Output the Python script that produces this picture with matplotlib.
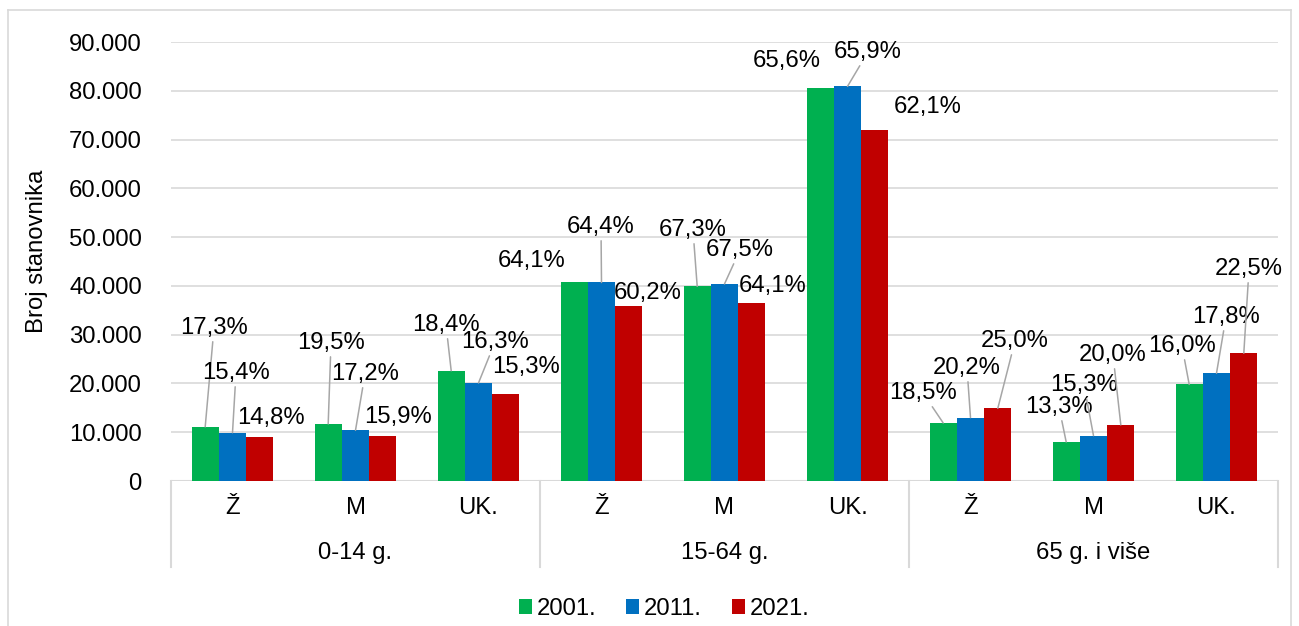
import matplotlib
matplotlib.use("Agg")
import matplotlib.pyplot as plt
from matplotlib.lines import Line2D
import numpy as np

plt.rcParams['font.family'] = ['Liberation Sans', 'DejaVu Sans']

# ---------------- data ----------------
subcats = ["Ž", "M", "UK.", "Ž", "M", "UK.", "Ž", "M", "UK."]
groups = ["0-14 g.", "15-64 g.", "65 g. i više"]
series_names = ["2001.", "2011.", "2021."]
v2001 = [11100, 11700, 22600, 40700, 39900, 80500, 11900, 8000, 19800]
v2011 = [9900, 10400, 20100, 40700, 40400, 80900, 13000, 9300, 22100]
v2021 = [9000, 9200, 17900, 35800, 36400, 72000, 14900, 11500, 26200]
p2001 = ["17,3%", "19,5%", "18,4%", "64,1%", "67,3%", "65,6%", "18,5%", "13,3%", "16,0%"]
p2011 = ["15,4%", "17,2%", "16,3%", "64,4%", "67,5%", "65,9%", "20,2%", "15,3%", "17,8%"]
p2021 = ["14,8%", "15,9%", "15,3%", "60,2%", "64,1%", "62,1%", "25,0%", "20,0%", "22,5%"]
yticks = [0, 10000, 20000, 30000, 40000, 50000, 60000, 70000, 80000, 90000]
ytick_labels = ["0", "10.000", "20.000", "30.000", "40.000", "50.000",
                "60.000", "70.000", "80.000", "90.000"]

# ---------------- label placement (pixel offsets from bar top) ----------------
off2001 = [(8.8, 98.9), (2.8, 80.9), (-5.2, 45.8), (-42.2, 21.5), (-4.2, 56.4),
           (-33.2, 27.3), (-20.2, 30.0), (-7.2, 35.0), (-7.2, 38.4)]
off2011 = [(3.5, 59.7), (9.5, 56.3), (16.5, 40.9), (-0.5, 55.5), (15.5, 33.9),
           (20.5, 34.4), (-3.5, 49.6), (-9.5, 50.6), (9.5, 56.2)]
off2021 = [(11.2, 19.1), (15.2, 19.1), (20.2, 26.7), (19.2, 13.4), (21.2, 17.4),
           (53.2, 22.8), (17.2, 67.3), (-7.8, 69.9), (5.2, 84.2)]
lead2001 = [1, 1, 1, 0, 1, 0, 1, 1, 1]
lead2011 = [1, 1, 1, 1, 1, 1, 1, 1, 1]
lead2021 = [0, 0, 0, 0, 0, 0, 1, 1, 1]

colors = ["#00B050", "#0070C0", "#C00000"]
grid_c = "#D9D9D9"
lead_c = "#A6A6A6"
FS = 17.2

W, H = 1299, 626
fig = plt.figure(figsize=(W / 100, H / 100), dpi=100)
L, R, T, B = 171, 1278, 42, 481
ax = fig.add_axes([L / W, 1 - B / H, (R - L) / W, (B - T) / H])

x = np.arange(len(subcats))
bw = 0.222
allv = [v2001, v2011, v2021]
allp = [p2001, p2011, p2021]
allo = [off2001, off2011, off2021]
alll = [lead2001, lead2011, lead2021]
for k in range(3):
    xs = x + (k - 1) * bw
    ax.bar(xs, allv[k], width=bw, color=colors[k], label=series_names[k], zorder=3)
    for i in range(len(x)):
        dx, dy = allo[k][i]
        ap = dict(arrowstyle='-', color=lead_c, lw=1.1, shrinkA=0, shrinkB=0) if alll[k][i] else None
        ax.annotate(allp[k][i], xy=(xs[i], allv[k][i]), xytext=(dx, dy),
                    textcoords='offset pixels', ha='center', va='center',
                    fontsize=FS, color='#000000', arrowprops=ap, zorder=4,
                    annotation_clip=False)

ax.set_xlim(-0.5, len(subcats) - 0.5)
ax.set_ylim(0, 90000)
ax.set_yticks(yticks)
ax.set_yticklabels(ytick_labels, fontsize=FS)
ax.tick_params(axis='y', length=0, pad=21)
ax.tick_params(axis='x', length=0, labelbottom=False)
ax.set_xticks([])
ax.grid(axis='y', color=grid_c, lw=1.2, zorder=0)
ax.set_axisbelow(True)
for s in ax.spines.values():
    s.set_visible(False)
ax.axhline(0, color=grid_c, lw=1.5, zorder=2)

xt = ax.get_xaxis_transform()
ax_h = B - T
for i, s in enumerate(subcats):
    ax.text(x[i], -(508 - B) / ax_h, s, transform=xt, ha='center', va='center',
            fontsize=FS, clip_on=False)
for g in range(3):
    ax.text(3 * g + 1, -(553 - B) / ax_h, groups[g], transform=xt, ha='center',
            va='center', fontsize=FS, clip_on=False)
for xb in [-0.5, 2.5, 5.5, 8.5]:
    ax.add_line(Line2D([xb, xb], [0, -(567 - B) / ax_h], transform=xt,
                       color=grid_c, lw=1.5, clip_on=False))

fig.text(37 / W, 1 - 251 / H, "Broj stanovnika", rotation=90, ha='center',
         va='center', fontsize=FS)

leg = fig.legend(loc='center', bbox_to_anchor=(664 / W, 1 - 609 / H), ncol=3,
                 frameon=False, fontsize=FS, handlelength=0.55, handleheight=0.55,
                 handletextpad=0.2, columnspacing=1.25, borderpad=0)

# outer chart frame
for xs_, ys_ in [([8, 8], [10, 640]), ([8, 1291], [10, 10]), ([1291, 1291], [10, 640])]:
    fig.add_artist(Line2D([v / W for v in xs_], [1 - v / H for v in ys_],
                          transform=fig.transFigure, color=grid_c, lw=1.2))

fig.savefig("out.png", dpi=100, facecolor='white')
